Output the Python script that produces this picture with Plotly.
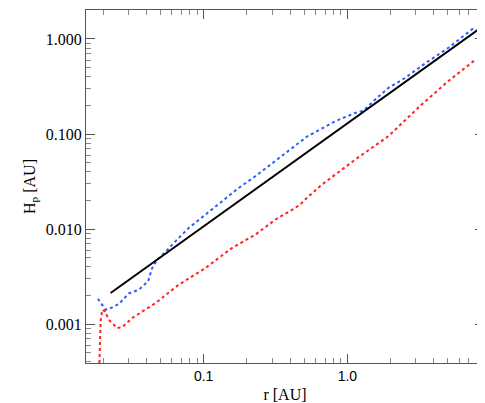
import plotly.graph_objects as go

black_r = [0.0225, 8.12]
black_h = [0.00212, 1.253]

blue_r = [0.01836, 0.02076, 0.02250, 0.02570, 0.03015, 0.03538, 0.04105, 0.04378, 0.04743,
          0.05420, 0.06357, 0.07870, 0.1028, 0.1340, 0.1750, 0.2286, 0.3148, 0.4333, 0.5275,
          0.5652, 0.6633, 0.8215, 1.131, 1.291, 1.557, 1.926, 2.516, 3.652, 5.026, 6.216, 7.704]
blue_h = [0.001845, 0.001415, 0.001473, 0.001625, 0.002104, 0.002297, 0.002813, 0.003882, 0.004750,
          0.005729, 0.007423, 0.01025, 0.01415, 0.01958, 0.02702, 0.03588, 0.05158, 0.07430, 0.09462,
          0.1, 0.1137, 0.1361, 0.1664, 0.1758, 0.2297, 0.3048, 0.3882, 0.5823, 0.8040, 1.024, 1.328]

red_r = [0.0188, 0.01897, 0.01918, 0.01967, 0.02054, 0.02188, 0.02500, 0.02710, 0.03179, 0.04624,
         0.06698, 0.1028, 0.1572, 0.2286, 0.3148, 0.4333, 0.4818, 0.5275, 0.6633, 1.131, 1.926,
         3.281, 5.026, 7.780]
red_h = [0.000389, 0.000582, 0.001067, 0.001415, 0.001361, 0.001110, 0.000907, 0.000930, 0.001157,
         0.001663, 0.002593, 0.003882, 0.006310, 0.008710, 0.01253, 0.01664, 0.01878, 0.02158,
         0.02924, 0.05362, 0.09462, 0.2034, 0.3589, 0.6053]

y_ticks = [0.001, 0.01, 0.1, 1.0]
y_labels = ["0.001", "0.010", "0.100", "1.000"]
x_ticks = [0.1, 1.0]
x_labels = ["0.1", "1.0"]
y_minor = [m * d for d in [0.0001, 0.001, 0.01, 0.1, 1.0] for m in range(2, 10)]
x_minor = [m * d for d in [0.01, 0.1, 1.0] for m in range(2, 10)]

fig = go.Figure()
fig.add_trace(go.Scatter(x=blue_r, y=blue_h, mode="lines",
                         line=dict(color="#2a5cff", width=2, dash="dot")))
fig.add_trace(go.Scatter(x=red_r, y=red_h, mode="lines",
                         line=dict(color="#ff2020", width=2, dash="dot")))
fig.add_trace(go.Scatter(x=black_r, y=black_h, mode="lines",
                         line=dict(color="black", width=2)))

axis_common = dict(type="log", showgrid=False, zeroline=False, showline=True, linecolor="#555",
                   linewidth=1, mirror="allticks", ticks="inside", ticklen=9, tickcolor="#555")
fig.update_xaxes(**axis_common, range=[-1.819, 0.951], tickvals=x_ticks, ticktext=x_labels,
                 minor=dict(tickvals=x_minor, ticks="inside", ticklen=5, tickcolor="#888", showgrid=False),
                 tickfont=dict(family="Liberation Sans", size=14, color="black"),
                 title=dict(text="r [AU]", font=dict(family="Liberation Serif", size=16, color="black"),
                            standoff=6))
fig.update_yaxes(**axis_common, range=[-3.41, 0.305], tickvals=y_ticks, ticktext=y_labels,
                 minor=dict(tickvals=y_minor, ticks="inside", ticklen=5, tickcolor="#888", showgrid=False),
                 tickfont=dict(family="Liberation Serif", size=16, color="black"),
                 title=dict(text="H<sub>p</sub> [AU]", font=dict(family="Liberation Serif", size=16, color="black"),
                            standoff=6))
fig.update_layout(width=485, height=403, showlegend=False, plot_bgcolor="white", paper_bgcolor="white",
                  margin=dict(l=78, r=9, t=2, b=48))
fig.write_html("out.html")
